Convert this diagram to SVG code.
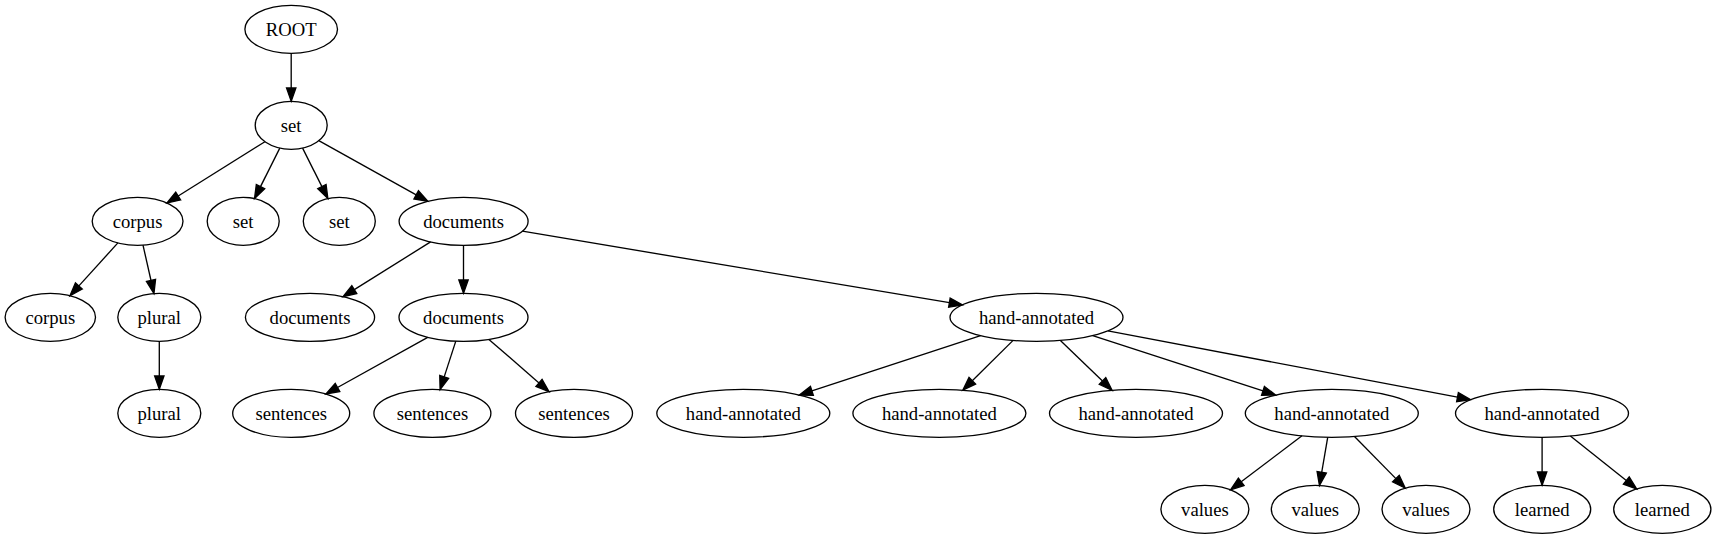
<svg xmlns="http://www.w3.org/2000/svg" width="1716" height="539" viewBox="0 0 1716 539">
<style>
.n ellipse{fill:none;stroke:#000;stroke-width:1.33}
.n text{font-family:"Liberation Serif","Times New Roman",serif;font-size:18.67px;fill:#000;text-anchor:middle}
#edges path{fill:none;stroke:#000;stroke-width:1.33;marker-end:url(#arr)}
</style>
<defs>
<marker id="arr" markerUnits="userSpaceOnUse" markerWidth="16" markerHeight="12" refX="0" refY="4.67" orient="auto" overflow="visible">
<path d="M0,0 L13.3,4.67 L0,9.34 z" fill="#000" stroke="#000" stroke-width="1.33"/>
</marker>
</defs>
<rect width="1716" height="539" fill="#fff"/>
<g id="edges">
<path d="M291.2,53.3 L291.2,88"/>
<path d="M264.9,141.7 L178.2,196.0"/>
<path d="M279.8,148.1 L260.5,186.6"/>
<path d="M302.6,148.1 L321.9,186.6"/>
<path d="M318.8,140.7 L416.2,194.8"/>
<path d="M117.9,242.9 L78.9,285.9"/>
<path d="M143.0,245.1 L151.0,280.5"/>
<path d="M159.3,341.3 L159.3,376.0"/>
<path d="M430.6,241.9 L354.3,289.6"/>
<path d="M463.5,245.3 L463.5,280.0"/>
<path d="M522.4,231.2 L949.4,302.7"/>
<path d="M427.7,337.3 L337.5,387.5"/>
<path d="M455.8,341.1 L444.2,376.9"/>
<path d="M488.9,339.4 L539.0,382.9"/>
<path d="M980.6,335.6 L811.9,390.9"/>
<path d="M1013.1,340.4 L972.3,380.8"/>
<path d="M1060.4,340.4 L1102.5,381.0"/>
<path d="M1092.7,335.6 L1263.0,390.9"/>
<path d="M1107.9,330.9 L1457.5,397.2"/>
<path d="M1302.0,435.8 L1241.2,481.8"/>
<path d="M1327.7,437.3 L1321.7,472.3"/>
<path d="M1354.5,436.5 L1395.9,478.6"/>
<path d="M1542.1,437.3 L1542.1,472.0"/>
<path d="M1570.4,436.0 L1626.3,480.6"/>
</g>
<g id="root" class="n"><ellipse cx="291.2" cy="29.3" rx="46.3" ry="24"/><text x="291.2" y="35.6">ROOT</text></g>
<g id="set1" class="n"><ellipse cx="291.2" cy="125.3" rx="36" ry="24"/><text x="291.2" y="131.6">set</text></g>
<g id="corpus1" class="n"><ellipse cx="137.6" cy="221.3" rx="45.4" ry="24"/><text x="137.6" y="227.6">corpus</text></g>
<g id="set2" class="n"><ellipse cx="243.2" cy="221.3" rx="36" ry="24"/><text x="243.2" y="227.6">set</text></g>
<g id="set3" class="n"><ellipse cx="339.3" cy="221.3" rx="36" ry="24"/><text x="339.3" y="227.6">set</text></g>
<g id="documents1" class="n"><ellipse cx="463.6" cy="221.3" rx="64.5" ry="24"/><text x="463.6" y="227.6">documents</text></g>
<g id="corpus2" class="n"><ellipse cx="50.3" cy="317.3" rx="45.2" ry="24"/><text x="50.3" y="323.6">corpus</text></g>
<g id="plural1" class="n"><ellipse cx="159.3" cy="317.3" rx="41.5" ry="24"/><text x="159.3" y="323.6">plural</text></g>
<g id="documents2" class="n"><ellipse cx="310" cy="317.3" rx="64.6" ry="24"/><text x="310" y="323.6">documents</text></g>
<g id="documents3" class="n"><ellipse cx="463.5" cy="317.3" rx="64.5" ry="24"/><text x="463.5" y="323.6">documents</text></g>
<g id="hand1" class="n"><ellipse cx="1036.5" cy="317.3" rx="86.5" ry="24"/><text x="1036.5" y="323.6">hand-annotated</text></g>
<g id="plural2" class="n"><ellipse cx="159.3" cy="413.3" rx="41.5" ry="24"/><text x="159.3" y="419.6">plural</text></g>
<g id="sentences1" class="n"><ellipse cx="291.2" cy="413.3" rx="58.5" ry="24"/><text x="291.2" y="419.6">sentences</text></g>
<g id="sentences2" class="n"><ellipse cx="432.4" cy="413.3" rx="58.5" ry="24"/><text x="432.4" y="419.6">sentences</text></g>
<g id="sentences3" class="n"><ellipse cx="574" cy="413.3" rx="58.5" ry="24"/><text x="574" y="419.6">sentences</text></g>
<g id="hand2" class="n"><ellipse cx="743.3" cy="413.3" rx="86.5" ry="24"/><text x="743.3" y="419.6">hand-annotated</text></g>
<g id="hand3" class="n"><ellipse cx="939.4" cy="413.3" rx="86.5" ry="24"/><text x="939.4" y="419.6">hand-annotated</text></g>
<g id="hand4" class="n"><ellipse cx="1136" cy="413.3" rx="86.5" ry="24"/><text x="1136" y="419.6">hand-annotated</text></g>
<g id="hand5" class="n"><ellipse cx="1331.8" cy="413.3" rx="86.5" ry="24"/><text x="1331.8" y="419.6">hand-annotated</text></g>
<g id="hand6" class="n"><ellipse cx="1542" cy="413.3" rx="86.5" ry="24"/><text x="1542" y="419.6">hand-annotated</text></g>
<g id="values1" class="n"><ellipse cx="1204.9" cy="509.3" rx="44" ry="24"/><text x="1204.9" y="515.6">values</text></g>
<g id="values2" class="n"><ellipse cx="1315.3" cy="509.3" rx="44" ry="24"/><text x="1315.3" y="515.6">values</text></g>
<g id="values3" class="n"><ellipse cx="1426" cy="509.3" rx="44" ry="24"/><text x="1426" y="515.6">values</text></g>
<g id="learned1" class="n"><ellipse cx="1542.2" cy="509.3" rx="48.5" ry="24"/><text x="1542.2" y="515.6">learned</text></g>
<g id="learned2" class="n"><ellipse cx="1662.3" cy="509.3" rx="48.6" ry="24"/><text x="1662.3" y="515.6">learned</text></g>
</svg>
